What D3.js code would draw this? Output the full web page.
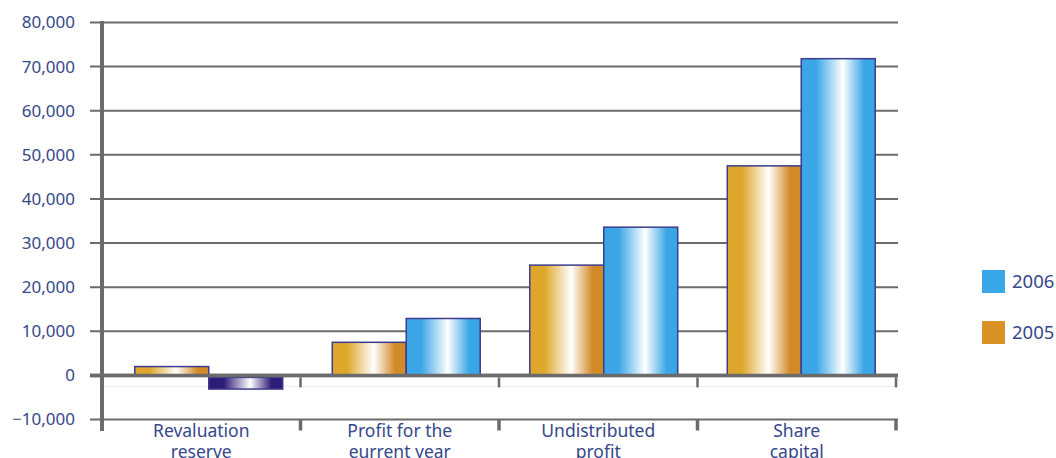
<!DOCTYPE html>
<html>
<head>
<meta charset="utf-8">
<script src="https://cdn.jsdelivr.net/npm/d3@7"></script>
<style>
  html, body { margin: 0; padding: 0; background: #fff; }
  svg { display: block; }
  text { font-family: "Noto Sans", "Open Sans", sans-serif; fill: #36478a; }
</style>
</head>
<body>
<svg id="chart" width="1056" height="458"></svg>
<script>
// Equity components, 2005 vs 2006
const categories = [["Revaluation", "reserve"], ["Profit for the", "eurrent year"], ["Undistributed", "profit"], ["Share", "capital"]];
const seriesNames = ["2005", "2006"];
const values2005 = [2000, 7500, 25000, 47500];
const values2006 = [-3100, 12900, 33600, 71800];
const yTicks = [-10000, 0, 10000, 20000, 30000, 40000, 50000, 60000, 70000, 80000];

const svg = d3.select("#chart");
const defs = svg.append("defs");

function addGradient(id, edgeL, edgeR) {
  const g = defs.append("linearGradient").attr("id", id)
    .attr("x1", "0%").attr("x2", "100%").attr("y1", "0%").attr("y2", "0%");
  g.append("stop").attr("offset", "0%").attr("stop-color", edgeL);
  g.append("stop").attr("offset", "20%").attr("stop-color", edgeL);
  g.append("stop").attr("offset", "56%").attr("stop-color", "#ffffff");
  g.append("stop").attr("offset", "85%").attr("stop-color", edgeR);
  g.append("stop").attr("offset", "100%").attr("stop-color", edgeR);
}
addGradient("gold", "#dea72c", "#d28a26");
addGradient("blue", "#3aa6e6", "#3aa6e6");
addGradient("navy", "#2d1b78", "#2d1b78");

const y = d3.scaleLinear().domain([-10000, 80000]).range([419.5, 22.5]);

// category boundaries (axis) and bar groups
const xAxisBand = d3.scaleBand().domain(d3.range(categories.length)).range([102, 896]);
const xGroup = d3.scaleBand().domain(d3.range(categories.length)).range([110, 900])
  .paddingInner(0.251).paddingOuter(0.1255);
const xSeries = d3.scaleBand().domain(seriesNames).range([0, xGroup.bandwidth()]);

const gridLeft = 90, gridRight = 898;

// gridlines with left tick marks
const grid = svg.append("g");
grid.selectAll("line").data(yTicks).join("line")
  .attr("x1", gridLeft).attr("x2", gridRight)
  .attr("y1", d => y(d)).attr("y2", d => y(d))
  .attr("stroke", "#6b6b6b")
  .attr("stroke-width", d => d === 0 ? 3.5 : 2);

// light base under zero line
svg.append("rect")
  .attr("x", gridLeft + 12).attr("y", y(0) + 2)
  .attr("width", gridRight - gridLeft - 12).attr("height", 9)
  .attr("fill", "none").attr("stroke", "#ebebeb").attr("stroke-width", 1);

// tick labels
svg.append("g").selectAll("text").data(yTicks).join("text")
  .attr("x", 75).attr("y", d => y(d))
  .attr("dy", "0.35em")
  .attr("text-anchor", "end")
  .attr("font-size", 17)
  .text(d => d3.format(",")(d));

// bars
const rows = categories.map((c, i) => ({ i, vals: [values2005[i], values2006[i]] }));
const groups = svg.append("g").selectAll("g").data(rows).join("g")
  .attr("transform", d => `translate(${xGroup(d.i)},0)`);
groups.selectAll("rect").data(d => d.vals.map((v, k) => ({ v, s: seriesNames[k] }))).join("rect")
  .attr("x", d => xSeries(d.s))
  .attr("width", xSeries.bandwidth())
  .attr("y", d => d.v >= 0 ? y(d.v) : y(0) + 2)
  .attr("height", d => d.v >= 0 ? y(0) - y(d.v) : y(d.v) - y(0) - 2)
  .attr("fill", d => d.v < 0 ? "url(#navy)" : (d.s === "2005" ? "url(#gold)" : "url(#blue)"))
  .attr("stroke", "#3d3c8e")
  .attr("stroke-width", 1.5);

// redraw zero line on top of bar bases
svg.append("line")
  .attr("x1", gridLeft).attr("x2", gridRight)
  .attr("y1", y(0)).attr("y2", y(0))
  .attr("stroke", "#6b6b6b").attr("stroke-width", 3.5);

// category separators
const bounds = d3.range(categories.length + 1).map(i =>
  i < categories.length ? xAxisBand(i) : xAxisBand(i - 1) + xAxisBand.bandwidth());
svg.append("g").selectAll("line").data(bounds.slice(1)).join("line")
  .attr("x1", d => d).attr("x2", d => d)
  .attr("y1", y(0) + 2).attr("y2", y(0) + 12)
  .attr("stroke", "#6b6b6b").attr("stroke-width", 2.5);
svg.append("g").selectAll("line").data(bounds).join("line")
  .attr("x1", d => d).attr("x2", d => d)
  .attr("y1", y(-10000)).attr("y2", y(-10000) + 11)
  .attr("stroke", "#6b6b6b").attr("stroke-width", 3.5);

// y axis line
svg.append("line")
  .attr("x1", 102).attr("x2", 102)
  .attr("y1", 21).attr("y2", 431)
  .attr("stroke", "#6b6b6b").attr("stroke-width", 4);

// category labels
const labels = svg.append("g").selectAll("text").data(categories).join("text")
  .attr("x", (d, i) => xAxisBand(i) + xAxisBand.bandwidth() / 2)
  .attr("y", 437)
  .attr("text-anchor", "middle")
  .attr("font-size", 17.5);
labels.selectAll("tspan").data(d => d).join("tspan")
  .attr("x", function () { return d3.select(this.parentNode).attr("x"); })
  .attr("dy", (d, k) => k === 0 ? 0 : 21)
  .text(d => d);

// legend
const legendItems = [{ name: "2006", color: "#38a8e8", y: 270 }, { name: "2005", color: "#d89225", y: 321 }];
const lg = svg.append("g").selectAll("g").data(legendItems).join("g")
  .attr("transform", d => `translate(982,${d.y})`);
lg.append("rect").attr("width", 23).attr("height", 23).attr("fill", d => d.color);
lg.append("text").attr("x", 30).attr("y", 11.5).attr("dy", "0.36em")
  .attr("font-size", 18.5).text(d => d.name);
</script>
</body>
</html>
